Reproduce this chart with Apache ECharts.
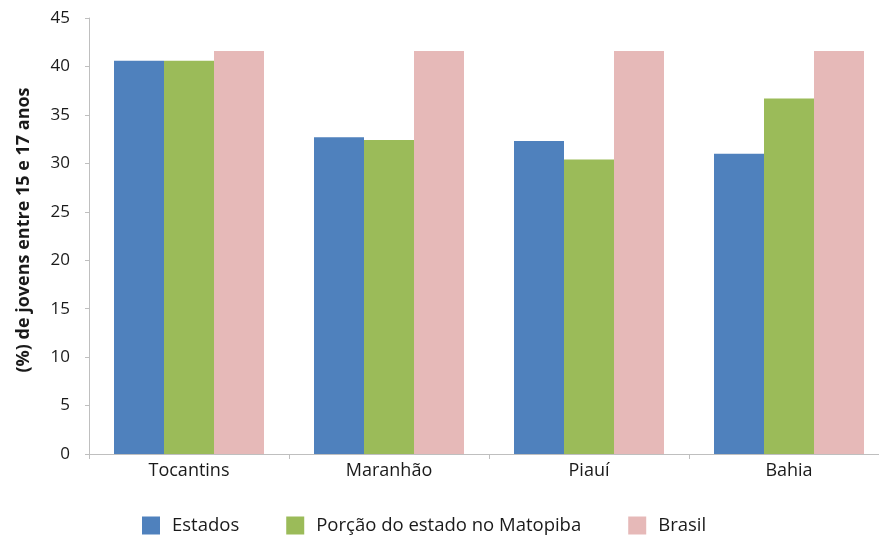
<!DOCTYPE html>
<html>
<head>
<meta charset="utf-8">
<script src="https://cdn.jsdelivr.net/npm/echarts@6/dist/echarts.min.js"></script>
<style>html,body{margin:0;padding:0;background:#fff;overflow:hidden}#c{width:889px;height:535px}</style>
</head>
<body>
<div id="c"></div>
<script>
const categories = ['Tocantins', 'Maranhão', 'Piauí', 'Bahia'];
const estados = [40.6, 32.7, 32.3, 31.0];
const porcao = [40.6, 32.4, 30.4, 36.7];
const brasil = [41.6, 41.6, 41.6, 41.6];
const seriesNames = ['Estados', 'Porção do estado no Matopiba', 'Brasil'];
const yTicks = [0, 45, 5];

const chart = echarts.init(document.getElementById('c'));
const font = '"Open Sans", "Noto Sans", sans-serif';
chart.setOption({
  animation: false,
  textStyle: { fontFamily: font },
  grid: { left: 89, right: 0, top: 18, bottom: 81, containLabel: false },
  legend: {
    left: 142, top: 516, padding: 0, itemWidth: 18, itemHeight: 18, itemGap: 47,
    icon: 'rect',
    textStyle: { fontSize: 18.5, lineHeight: 18, color: '#1a1a1a', fontFamily: font, padding: [0, 0, 0, 7] },
    data: seriesNames
  },
  xAxis: {
    type: 'category', data: categories,
    axisLine: { lineStyle: { color: '#bfbfbf', width: 1 } },
    axisTick: { show: true, length: 5, lineStyle: { color: '#bfbfbf' } },
    axisLabel: { fontSize: 18, color: '#1a1a1a', margin: 8, fontFamily: font }
  },
  yAxis: {
    type: 'value', min: yTicks[0], max: yTicks[1], interval: yTicks[2],
    name: '(%) de jovens entre 15 e 17 anos',
    nameLocation: 'middle', nameGap: 56, nameRotate: 90,
    nameTextStyle: { fontSize: 18, fontWeight: 'bold', color: '#1a1a1a', fontFamily: font, padding: [0, 0, 0, 12] },
    axisLine: { show: true, lineStyle: { color: '#bfbfbf', width: 1 } },
    axisTick: { show: true, length: 4, lineStyle: { color: '#bfbfbf' } },
    splitLine: { show: false },
    axisLabel: { fontSize: 17, color: '#1a1a1a', margin: 19, fontFamily: font }
  },
  series: [
    { name: seriesNames[0], type: 'bar', data: estados, barGap: '0%', barCategoryGap: '25%', itemStyle: { color: '#4f81bd' } },
    { name: seriesNames[1], type: 'bar', data: porcao, barGap: '0%', barCategoryGap: '25%', itemStyle: { color: '#9bbb59' } },
    { name: seriesNames[2], type: 'bar', data: brasil, barGap: '0%', barCategoryGap: '25%', itemStyle: { color: '#e6b9b8' } }
  ]
});
</script>
</body>
</html>
